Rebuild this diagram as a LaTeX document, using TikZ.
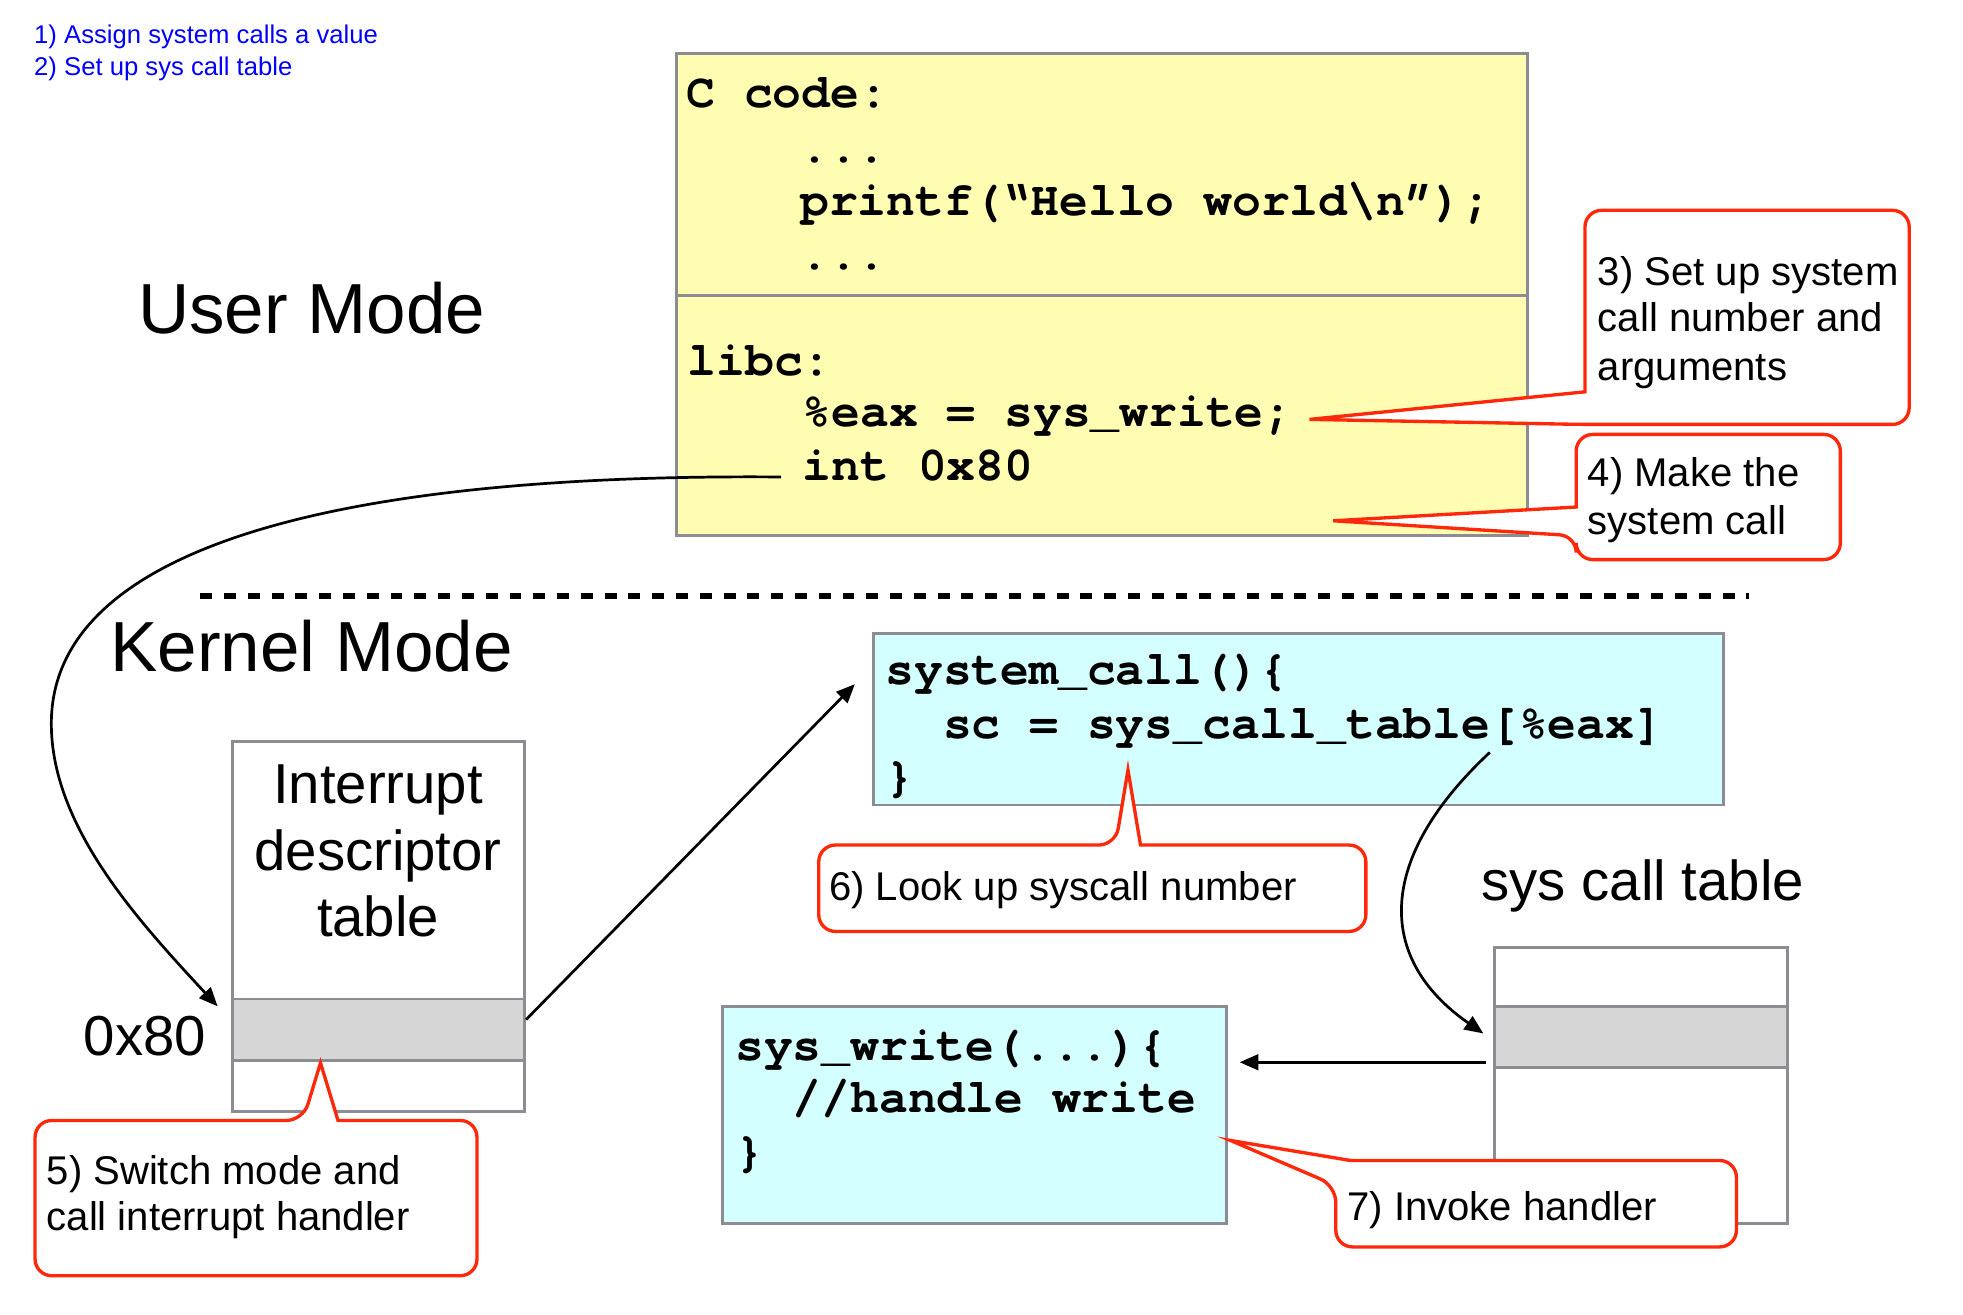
\documentclass[tikz,border=0pt]{standalone}
\usepackage{fontspec}
\setmainfont{Liberation Sans}
\newfontfamily\codefont{TeX Gyre Cursor}
\usetikzlibrary{arrows.meta,calc,fit}
\definecolor{codeyellow}{RGB}{255,253,178}
\definecolor{codecyan}{RGB}{212,255,255}
\definecolor{boxgray}{RGB}{140,140,146}
\definecolor{rowgray}{RGB}{214,214,214}
\definecolor{callred}{RGB}{255,40,10}
\definecolor{noteblue}{RGB}{0,0,255}
\begin{document}
\begin{tikzpicture}[x=0.6pt,y=-0.6pt,
  codetxt/.style={anchor=base west,inner sep=0pt,font=\codefont\bfseries\fontsize{23}{27}\selectfont},
  calltxt/.style={anchor=base west,inner sep=0pt,font=\fontsize{19.2}{23}\selectfont},
  bigtxt/.style={anchor=base,inner sep=0pt,font=\fontsize{27}{32}\selectfont},
  modetxt/.style={anchor=base west,inner sep=0pt,font=\fontsize{34}{40}\selectfont},
  notetxt/.style={anchor=base west,inner sep=0pt,text=noteblue,font=\fontsize{12.3}{15}\selectfont},
  panel/.style={draw=boxgray,line width=1.4pt,inner sep=0pt},
  callout/.style={draw=callred,fill=white,line width=1.6pt,line join=miter},
  flow/.style={-{Triangle[length=9pt,width=7.5pt]},line width=1.3pt,black},
]
\useasboundingbox (0,0) rectangle (1568,1049.6);

% notes
\node[notetxt] (n1) at (27,35) {1) Assign system calls a value};
\node[notetxt] (n2) at (27,60) {2) Set up sys call table};

% mode labels
\node[modetxt] (um) at (110,266) {User Mode};
\node[modetxt] (km) at (88,536) {Kernel Mode};
\draw[line width=2.8pt,dash pattern=on 5.7pt off 5.7pt] (160,476) -- (1397,476);

% user code box
\node[panel,fill=codeyellow,fit={(540,43) (1220,428)}] (ubox) {};
\draw[draw=boxgray,line width=1.4pt] (ubox.west |- 0,236) -- (ubox.east |- 0,236);
\node[codetxt] (l1) at (548,86) {C code:};
\node[codetxt] (l2) at (639,130) {...};
\node[codetxt] (l3) at (639,172) {printf(“Hello world\textbackslash n”);};
\node[codetxt] (l4) at (639,215) {...};
\node[codetxt] (l5) at (549,300) {libc:};
\node[codetxt] (l6) at (641,341) {\%eax = sys\_write;};
\node[codetxt] (intline) at (641,384) {int 0x80};

% system_call box
\node[panel,fill=codecyan,fit={(698,506) (1377,643)}] (scbox) {};
\node[codetxt] (s1) at (707,547) {system\_call()\{};
\node[codetxt] (s2) at (753,590) {sc = sys\_call\_table[\%eax]};
\node[codetxt] (s3) at (707,632) {\}};

% sys_write box
\node[panel,fill=codecyan,fit={(577,804) (980,977)}] (swbox) {};
\node[codetxt] (w1) at (587,847) {sys\_write(...)\{};
\node[codetxt] (w2) at (633,889) {//handle write};
\node[codetxt] (w3) at (587,932) {\}};

% IDT
\node[panel,fit={(186,592) (419,888)}] (idt) {};
\node[panel,fill=rowgray,fit={(186,798) (419,847)}] (idtrow) {};
\node[bigtxt] (i1) at (302,642) {Interrupt};
\node[bigtxt] (i2) at (302,695) {descriptor};
\node[bigtxt] (i3) at (302,748) {table};
\node[bigtxt,anchor=base east] (hex) at (165,843) {0x80};

% sys call table
\node[bigtxt,anchor=base west] (sctl) at (1183,719) {sys call table};
\node[panel,fit={(1194,757) (1428,977)}] (sct) {};
\node[panel,fill=rowgray,fit={(1194,804) (1428,853)}] (sctrow) {};

% connectors
\coordinate (intstart) at ($(intline.base west)+(-17,-3)$);
\coordinate (idttip) at ($(idtrow.north west)+(-11,7)$);
\draw[flow] (intstart) .. controls (260,378) and (41,440) .. (41,578)
  .. controls (41,660) and (110,735) .. (idttip);
\coordinate (idtout) at ($(idtrow.east)+(0,-8)$);
\coordinate (sctip) at ($(scbox.west)+(-14,-28)$);
\draw[flow] (idtout) -- (sctip);
\coordinate (tabstart) at (1190,601);
\coordinate (tabtip) at ($(sctrow.west)+(-8,-3)$);
\draw[flow] (tabstart) .. controls (1100,685) and (1098,765) .. (tabtip);
\coordinate (rowout) at ($(sctrow.west)+(-6,20)$);
\coordinate (swtip) at (swbox.east |- rowout);
\draw[flow] (rowout) -- ($(swtip)+(9,0)$);

% callouts
\draw[callout] (1266,313) [rounded corners=8pt] -- (1266,168) -- (1525,168) -- (1525,339) -- (1262,339) [sharp corners] -- (1046,335) -- cycle;
\node[calltxt] (c3a) at (1276,228) {3) Set up system};
\node[calltxt] (c3b) at (1276,265) {call number and};
\node[calltxt] (c3c) at (1276,304) {arguments};

\draw[callout] (1259,405) [rounded corners=8pt] -- (1259,347) -- (1470,347) -- (1470,447) -- (1259,447) -- (1259,428) [sharp corners] -- (1065,416) -- cycle;
\node[calltxt] (c4a) at (1268,389) {4) Make the};
\node[calltxt] (c4b) at (1268,427) {system call};

\draw[callout] (270,895) [rounded corners=8pt] -- (381,895) -- (381,1019) -- (28,1019) -- (28,895) -- (242,895) [sharp corners] -- (256,849) -- cycle;
\node[calltxt] (c5a) at (37,946) {5) Switch mode and};
\node[calltxt] (c5b) at (37,983) {call interrupt handler};

\draw[callout] (911,675) [rounded corners=8pt] -- (1091,675) -- (1091,744) -- (654,744) -- (654,675) -- (891,675) [sharp corners] -- (901,615) -- cycle;
\node[calltxt] (c6) at (662,719) {6) Look up syscall number};

\draw[callout] (1079,927) [rounded corners=8pt] -- (1387,927) -- (1387,996) -- (1067,996) -- (1067,947) [sharp corners] -- (983,911) -- cycle;
\node[calltxt] (c7) at (1076,975) {7) Invoke handler};
\end{tikzpicture}
\end{document}
